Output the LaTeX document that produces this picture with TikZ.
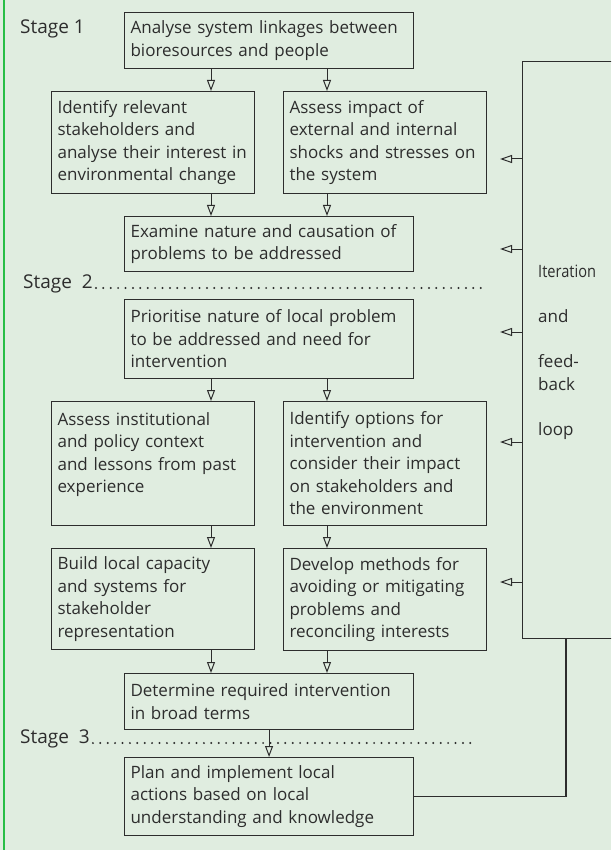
\documentclass[tikz,border=0pt]{standalone}
\usepackage{fontspec}
\setmainfont{Open Sans}
\usetikzlibrary{arrows.meta}
\definecolor{bggreen}{RGB}{224,237,224}
\definecolor{edgegreen}{RGB}{40,190,70}
\definecolor{ink}{RGB}{45,45,45}

\begin{document}
\begin{tikzpicture}[x=1pt,y=-1pt,
  every node/.style={font=\fontsize{17}{22.5}\selectfont,text=ink},
  box/.style={draw=ink,line width=1.1pt,anchor=north west,align=left,inner xsep=6pt,inner ysep=0pt},
  wide/.style={box,text width=277pt},
  half/.style={box,text width=191pt},
  arr/.style={draw=ink,line width=1pt,-{Triangle[open,length=11pt,width=8pt,line width=1pt]}},
  fb/.style={draw=ink,line width=1pt,-{Triangle[open,length=12pt,width=8pt,line width=1pt]}},
  dots/.style={draw=ink,line width=2.2pt,line cap=round,dash pattern=on 0pt off 7.4pt},
  stage/.style={anchor=base west,inner sep=0pt,font=\fontsize{19}{22.5}\selectfont}]
\fill[bggreen] (0,0) rectangle (611,850);
\useasboundingbox (0,0) rectangle (611,850);
\clip (0,0) rectangle (611,850);
\draw[edgegreen,line width=1.5pt] (4,0) -- (4,850);

\node[wide,minimum height=56pt] (a) at (124,12) {Analyse system linkages between\\ bioresources and people};
\node[half,minimum height=102pt] (b1) at (51,91) {Identify relevant\\ stakeholders and\\ analyse their interest in\\ environmental change};
\node[half,minimum height=102pt] (b2) at (283,91) {Assess impact of\\ external and internal\\ shocks and stresses on\\ the system};
\node[wide,minimum height=55pt] (c) at (124,216) {Examine nature and causation of\\ problems to be addressed};
\node[wide,minimum height=79pt] (d) at (124,299) {Prioritise nature of local problem\\ to be addressed and need for\\ intervention};
\node[half,minimum height=124pt] (e1) at (51,401) {Assess institutional\\ and policy context\\ and lessons from past\\ experience\\ \mbox{}};
\node[half,minimum height=124pt] (e2) at (283,401) {Identify options for\\ intervention and\\ consider their impact\\ on stakeholders and\\ the environment};
\node[half,minimum height=101pt] (f1) at (51,548) {Build local capacity\\ and systems for\\ stakeholder\\ representation};
\node[half,minimum height=102pt] (f2) at (283,548) {Develop methods for\\ avoiding or mitigating\\ problems and\\ reconciling interests};
\node[wide,minimum height=56pt] (g) at (124,673) {Determine required intervention\\ in broad terms};
\node[wide,minimum height=78pt] (h) at (124,757) {Plan and implement local\\ actions based on local\\ understanding and knowledge};

\node[draw=ink,line width=1.1pt,anchor=north west,minimum width=110pt,minimum height=577pt] (loop) at (522,61) {};
\node[anchor=north west,align=left,inner sep=0pt] (looptext) at (538,265)
  {\scalebox{0.86}[1]{Iteration}\\[22.5pt]and\\[22.5pt]feed-\\back\\[22.5pt]loop};

\node[stage] (st1) at (20,34) {Stage 1};
\node[stage] (st2) at (23,288) {Stage\ \ 2};
\node[stage] (st3) at (20,743) {Stage\ \ 3};
\coordinate (st2end) at (482,288);
\coordinate (st3end) at (477,743);
\draw[dots] ([xshift=3pt]st2.base east) -- (st2end);
\draw[dots] ([xshift=3pt]st3.base east) -- (st3end);

\coordinate (xl) at (211,0);
\coordinate (xr) at (327,0);
\draw[arr] (xl |- a.south) -- (xl |- b1.north);
\draw[arr] (xr |- a.south) -- (xr |- b2.north);
\draw[arr] (xl |- b1.south) -- (xl |- c.north);
\draw[arr] (xr |- b2.south) -- (xr |- c.north);
\draw[arr] (xl |- d.south) -- (xl |- e1.north);
\draw[arr] (xr |- d.south) -- (xr |- e2.north);
\draw[arr] (xl |- e1.south) -- (xl |- f1.north);
\draw[arr] (xr |- e2.south) -- (xr |- f2.north);
\draw[arr] (xl |- f1.south) -- (xl |- g.north);
\draw[arr] (xr |- f2.south) -- (xr |- g.north);
\draw[arr] (g.south) -- (h.north);

\foreach \y [count=\i] in {159,249,332,442,582}
  \coordinate (fb\i) at (500,\y);
\foreach \i in {1,...,5}
  \draw[fb] (fb\i -| loop.west) -- (fb\i);

\coordinate (ret) at (566,0);
\draw[draw=ink,line width=1.1pt] (h.east) -| (ret |- loop.south);
\end{tikzpicture}
\end{document}
